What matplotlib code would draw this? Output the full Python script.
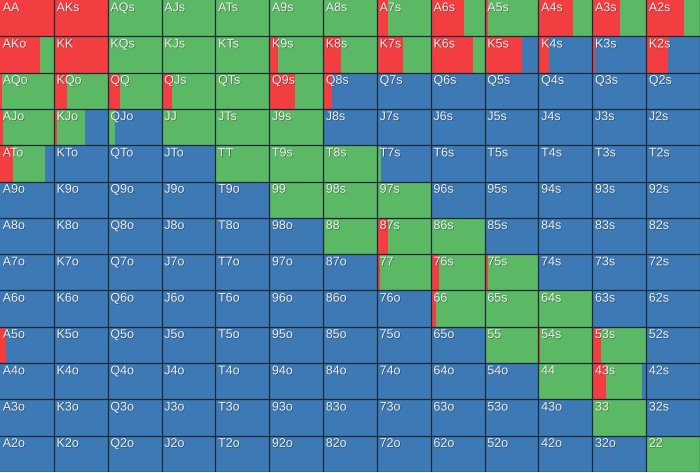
import matplotlib
matplotlib.use("Agg")
import matplotlib.pyplot as plt
import matplotlib.patheffects as pe
import numpy as np

ranks = list("AKQJT98765432")

# raise (red) fraction per cell, rows = first rank, cols = second rank
raise_frac = [
    [1.00, 1.00, 0, 0, 0, 0, 0, 0.20, 0.61, 0.06, 0.65, 0.52, 0.70],
    [0.75, 1.00, 0, 0, 0, 0.17, 0.34, 0.48, 0.78, 0.70, 0.19, 0.05, 0.40],
    [0.03, 0.24, 0.23, 0.19, 0, 0.47, 0.16, 0, 0, 0, 0, 0, 0],
    [0.05, 0.06, 0, 0, 0, 0, 0, 0, 0, 0, 0, 0, 0],
    [0.25, 0, 0, 0, 0.02, 0, 0, 0, 0, 0, 0, 0, 0],
    [0, 0, 0, 0, 0, 0, 0, 0, 0, 0, 0, 0, 0],
    [0, 0, 0, 0, 0, 0, 0.01, 0.20, 0, 0, 0, 0, 0],
    [0, 0, 0, 0, 0, 0, 0, 0.05, 0.16, 0.07, 0, 0, 0],
    [0, 0, 0, 0, 0, 0, 0, 0, 0.09, 0, 0, 0, 0],
    [0.11, 0, 0, 0, 0, 0, 0, 0, 0, 0.03, 0.02, 0.17, 0],
    [0, 0, 0, 0, 0, 0, 0, 0, 0, 0, 0, 0.25, 0],
    [0, 0, 0, 0, 0, 0, 0, 0, 0, 0, 0, 0, 0],
    [0, 0, 0, 0, 0, 0, 0, 0, 0, 0, 0, 0, 0],
]

# call (green) fraction per cell
call_frac = [
    [0, 0, 1, 1, 1, 1, 1, 0.80, 0.39, 0.94, 0.35, 0.48, 0.30],
    [0.25, 0, 1, 1, 1, 0.83, 0.66, 0.52, 0.22, 0, 0, 0, 0],
    [0.97, 0.76, 0.77, 0.81, 1, 0.53, 0, 0, 0, 0, 0, 0, 0],
    [0.95, 0.52, 0.14, 1, 1, 1, 0, 0, 0, 0, 0, 0, 0],
    [0.59, 0, 0, 0, 0.98, 1, 1, 0.08, 0, 0, 0, 0, 0],
    [0, 0, 0, 0, 0, 1, 1, 1, 0, 0, 0, 0, 0],
    [0, 0, 0, 0, 0, 0, 0.99, 0.80, 1, 0, 0, 0, 0],
    [0, 0, 0, 0, 0, 0, 0, 0.95, 0.84, 0.93, 0, 0, 0],
    [0, 0, 0, 0, 0, 0, 0, 0, 0.91, 1, 1, 0, 0],
    [0, 0, 0, 0, 0, 0, 0, 0, 0, 0.97, 0.98, 0.83, 0],
    [0, 0, 0, 0, 0, 0, 0, 0, 0, 0, 1, 0.68, 0],
    [0, 0, 0, 0, 0, 0, 0, 0, 0, 0, 0, 1, 0],
    [0, 0, 0, 0, 0, 0, 0, 0, 0, 0, 0, 0, 1],
]

RED = "#F23E40"
GREEN = "#5BB865"
BLUE = "#3C79B5"
LINE = "#1d2a36"

R = np.array(raise_frac, dtype=float)
C = np.array(call_frac, dtype=float)
F = np.clip(1 - R - C, 0, 1)

n = len(ranks)
fig = plt.figure(figsize=(7.0, 4.73), dpi=100)
ax = fig.add_axes([0, 1 / 473, 1, 472 / 473])
ax.set_xlim(0, n)
ax.set_ylim(n, 0)
ax.axis("off")

for i in range(n):
    rows = np.full(n, i)
    cols = np.arange(n)
    ax.barh(rows, R[i], left=cols, height=1, align="edge", color=RED, linewidth=0)
    ax.barh(rows, C[i], left=cols + R[i], height=1, align="edge", color=GREEN, linewidth=0)
    ax.barh(rows, F[i], left=cols + R[i] + C[i], height=1, align="edge", color=BLUE, linewidth=0)

for k in range(1, n + 1):
    ax.axhline(k, color=LINE, lw=0.9, zorder=3)
    ax.axvline(k, color=LINE, lw=0.9, zorder=3)

for i in range(n):
    for j in range(n):
        if i == j:
            lab = ranks[i] + ranks[j]
        elif j > i:
            lab = ranks[i] + ranks[j] + "s"
        else:
            lab = ranks[j] + ranks[i] + "o"
        ax.text(j + 0.05, i + 0.06, lab, ha="left", va="top",
                fontsize=9, color="#f0f0f0", family="Liberation Sans",
                zorder=4,
                path_effects=[pe.withSimplePatchShadow(offset=(0.5, -0.5), shadow_rgbFace="black", alpha=0.35)])

fig.savefig("out.png", dpi=100, facecolor="white")
